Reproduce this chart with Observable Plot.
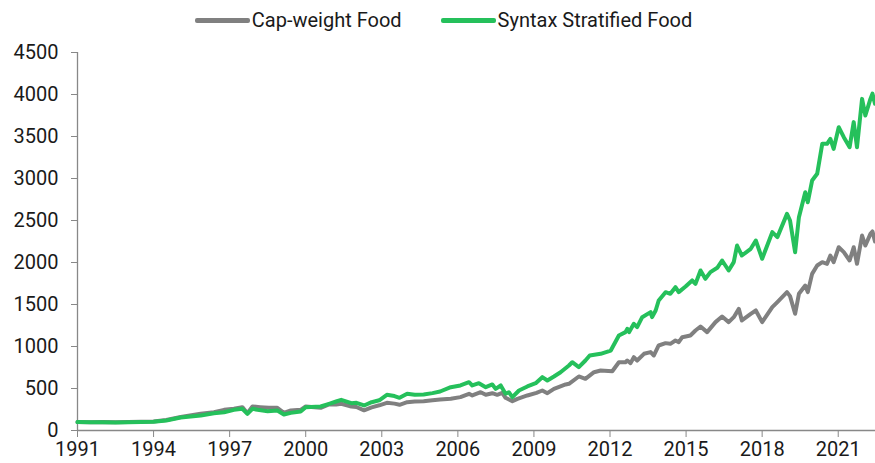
<!DOCTYPE html>
<html>
<head>
<meta charset="utf-8">
<script src="https://cdn.jsdelivr.net/npm/d3@7"></script>
<script src="https://cdn.jsdelivr.net/npm/@observablehq/plot@0.6"></script>
<style>
  html, body { margin: 0; padding: 0; background: #fff; }
  body { width: 875px; height: 463px; overflow: hidden; font-family: Roboto, sans-serif; }
  #legend { height: 40px; display: flex; justify-content: center; align-items: center; gap: 39px; padding-left: 12px; font-size: 20px; color: #1a1a1a; }
  .item { display: flex; align-items: center; gap: 2px; }
  .sw { width: 55px; height: 5px; border-radius: 2px; }
  svg { display: block; }
</style>
</head>
<body>
<div id="legend"></div>
<div id="chart"></div>
<script>
const seriesNames = ["Cap-weight Food", "Syntax Stratified Food"];
const seriesColors = ["#808080", "#25c05b"];
const yTicks = [0, 500, 1000, 1500, 2000, 2500, 3000, 3500, 4000, 4500];
const xTicks = [1991, 1994, 1997, 2000, 2003, 2006, 2009, 2012, 2015, 2018, 2021];

const capDates = [
  1991.0, 1991.5, 1992.0, 1992.5, 1993.0, 1993.5, 1994.0, 1994.5, 1995.07, 1995.86,
  1996.38, 1996.78, 1997.17, 1997.5, 1997.7, 1997.9, 1998.2, 1998.55, 1998.88, 1999.14,
  1999.41, 1999.8, 2000.0, 2000.59, 2000.92, 2001.2, 2001.4, 2001.8, 2002.0, 2002.3,
  2002.6, 2002.9, 2003.2, 2003.5, 2003.7, 2004.0, 2004.3, 2004.65, 2005.0, 2005.3,
  2005.72, 2006.1, 2006.44, 2006.57, 2006.9, 2007.1, 2007.36, 2007.55, 2007.75, 2007.88,
  2008.15, 2008.35, 2008.74, 2009.1, 2009.33, 2009.53, 2009.79, 2010.25, 2010.38, 2010.77,
  2011.03, 2011.37, 2011.63, 2012.09, 2012.35, 2012.61, 2012.68, 2012.81, 2012.94, 2013.07,
  2013.34, 2013.6, 2013.73, 2013.92, 2014.19, 2014.38, 2014.58, 2014.71, 2014.85, 2015.17,
  2015.37, 2015.57, 2015.83, 2016.16, 2016.42, 2016.68, 2016.88, 2017.08, 2017.2, 2017.55,
  2017.75, 2018.0, 2018.4, 2018.6, 2018.98, 2019.1, 2019.3, 2019.45, 2019.7, 2019.8,
  2019.97, 2020.17, 2020.37, 2020.56, 2020.69, 2020.82, 2021.02, 2021.22, 2021.45, 2021.61,
  2021.74, 2021.94, 2022.07, 2022.27, 2022.35, 2022.45
];
const capValues = [
  100, 97, 100, 98, 100, 103, 108, 125, 160, 199,
  218, 246, 258, 278, 206, 286, 278, 270, 270, 210,
  238, 246, 286, 270, 310, 310, 318, 286, 280, 240,
  275, 300, 329, 320, 306, 337, 345, 349, 360, 369,
  377, 397, 437, 417, 456, 425, 444, 425, 448, 389,
  349, 377, 417, 448, 476, 444, 496, 548, 556, 643,
  615, 694, 714, 706, 813, 813, 833, 802, 873, 833,
  913, 933, 893, 1012, 1040, 1032, 1071, 1052, 1111, 1131,
  1190, 1238, 1171, 1290, 1357, 1290, 1349, 1448, 1310, 1389,
  1429, 1290, 1468, 1528, 1647, 1600, 1389, 1627, 1726, 1647,
  1865, 1964, 2004, 1984, 2083, 2004, 2182, 2123, 2024, 2182,
  1984, 2321, 2202, 2341, 2370, 2250
];

const stratDates = [
  1991.0, 1991.5, 1992.0, 1992.5, 1993.0, 1993.5, 1994.0, 1994.5, 1995.07, 1995.86,
  1996.38, 1996.78, 1997.17, 1997.5, 1997.7, 1997.9, 1998.1, 1998.5, 1998.88, 1999.14,
  1999.41, 1999.8, 2000.0, 2000.59, 2000.92, 2001.2, 2001.4, 2001.8, 2002.0, 2002.3,
  2002.6, 2002.9, 2003.2, 2003.5, 2003.7, 2004.0, 2004.3, 2004.65, 2005.0, 2005.3,
  2005.72, 2006.1, 2006.44, 2006.57, 2006.83, 2007.1, 2007.36, 2007.49, 2007.69, 2007.88,
  2008.01, 2008.15, 2008.41, 2008.74, 2009.07, 2009.33, 2009.53, 2009.79, 2010.05, 2010.38,
  2010.51, 2010.77, 2011.03, 2011.2, 2011.63, 2012.03, 2012.35, 2012.61, 2012.68, 2012.75,
  2012.94, 2013.07, 2013.27, 2013.6, 2013.66, 2013.8, 2013.92, 2014.19, 2014.38, 2014.58,
  2014.71, 2014.98, 2015.24, 2015.37, 2015.57, 2015.76, 2015.96, 2016.23, 2016.42, 2016.68,
  2016.88, 2017.01, 2017.2, 2017.55, 2017.75, 2018.0, 2018.4, 2018.6, 2018.98, 2019.1,
  2019.3, 2019.45, 2019.7, 2019.8, 2019.97, 2020.17, 2020.37, 2020.56, 2020.69, 2020.82,
  2021.02, 2021.22, 2021.45, 2021.61, 2021.74, 2021.94, 2022.07, 2022.27, 2022.35, 2022.45
];
const stratValues = [
  100, 97, 99, 96, 97, 100, 104, 120, 155, 179,
  206, 218, 246, 258, 199, 258, 246, 230, 238, 190,
  210, 226, 278, 286, 317, 345, 365, 325, 330, 298,
  337, 360, 425, 410, 389, 437, 425, 429, 445, 464,
  516, 536, 575, 536, 563, 516, 548, 496, 536, 437,
  456, 397, 476, 524, 563, 635, 595, 643, 694, 774,
  813, 754, 833, 893, 913, 952, 1131, 1171, 1210, 1171,
  1270, 1230, 1349, 1409, 1349, 1429, 1548, 1647, 1627, 1706,
  1647, 1714, 1786, 1746, 1905, 1806, 1885, 1937, 2024, 1905,
  2004, 2202, 2083, 2163, 2262, 2044, 2361, 2302, 2579, 2500,
  2123, 2540, 2837, 2718, 2976, 3056, 3413, 3413, 3472, 3353,
  3611, 3492, 3373, 3671, 3373, 3948, 3750, 3948, 4010, 3890
];

const rows = [];
capDates.forEach((d, i) => rows.push({date: d, value: capValues[i], series: seriesNames[0]}));
stratDates.forEach((d, i) => rows.push({date: d, value: stratValues[i], series: seriesNames[1]}));

// legend
const legend = document.getElementById("legend");
seriesNames.forEach((name, i) => {
  const item = document.createElement("div");
  item.className = "item";
  const sw = document.createElement("div");
  sw.className = "sw";
  sw.style.background = seriesColors[i];
  const t = document.createElement("span");
  t.textContent = name;
  item.appendChild(sw);
  item.appendChild(t);
  legend.appendChild(item);
});

const chart = Plot.plot({
  width: 875,
  height: 423,
  marginTop: 12,
  marginBottom: 33,
  marginLeft: 77,
  marginRight: 0,
  style: {fontFamily: "Roboto, sans-serif", fontSize: "20px", color: "#1a1a1a", background: "#fff"},
  x: {domain: [1991, 2022.47], label: null},
  y: {domain: [0, 4500], label: null},
  color: {domain: seriesNames, range: seriesColors},
  marks: [
    Plot.axisY({ticks: yTicks, tickFormat: d => String(d), tickSize: 6, tickPadding: 13, stroke: "#888", fill: "#1a1a1a", label: null}),
    Plot.axisX({ticks: xTicks, tickFormat: d => String(d), tickSize: 7, tickPadding: 4, stroke: "#888", fill: "#1a1a1a", label: null}),
    Plot.ruleX([1991], {stroke: "#888", strokeWidth: 1.3}),
    Plot.ruleY([0], {stroke: "#888", strokeWidth: 1.3}),
    Plot.line(rows, {x: "date", y: "value", z: "series", stroke: "series", strokeWidth: 4, strokeLinejoin: "round", strokeLinecap: "round"})
  ]
});
document.getElementById("chart").appendChild(chart);
</script>
</body>
</html>
